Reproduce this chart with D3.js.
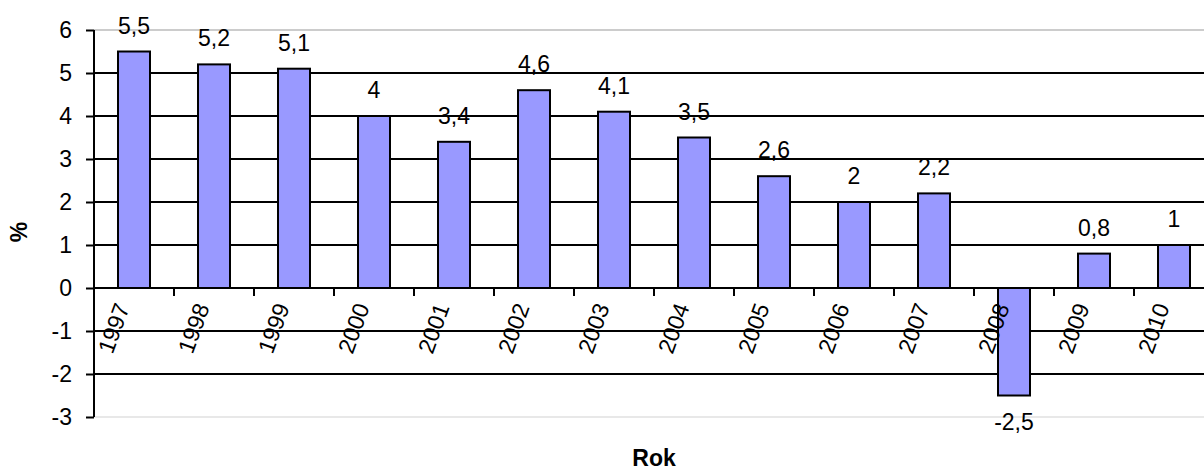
<!DOCTYPE html>
<html>
<head>
<meta charset="utf-8">
<script src="https://cdn.jsdelivr.net/npm/d3@7"></script>
<style>
  html, body { margin: 0; padding: 0; background: #fff; overflow: hidden; }
  svg { display: block; font-family: Arial, "Liberation Sans", sans-serif; }
</style>
</head>
<body>
<svg id="chart" width="1204" height="471"></svg>
<script>
const years = ["1997","1998","1999","2000","2001","2002","2003","2004","2005","2006","2007","2008","2009","2010"];
const values = [5.5, 5.2, 5.1, 4, 3.4, 4.6, 4.1, 3.5, 2.6, 2, 2.2, -2.5, 0.8, 1];
const valueLabels = ["5,5","5,2","5,1","4","3,4","4,6","4,1","3,5","2,6","2","2,2","-2,5","0,8","1"];
const yTicks = [-3, -2, -1, 0, 1, 2, 3, 4, 5, 6];
const xTitle = "Rok";
const yTitle = "%";

(function () {
const svg = d3.select("#chart");
const pLeft = 94, pRight = 1214, pTop = 30, pBottom = 417;
const fs = 23;

const x = d3.scaleBand().domain(years).range([pLeft, pRight]).paddingInner(0.6).paddingOuter(0.3);
const y = d3.scaleLinear().domain([-3, 6]).range([pBottom, pTop]);
const step = x.step();

// gridlines
svg.append("g").selectAll("line").data(yTicks).join("line")
  .attr("x1", pLeft).attr("x2", 1204)
  .attr("y1", d => Math.round(y(d))).attr("y2", d => Math.round(y(d)))
  .attr("stroke", d => d === 6 ? "#cccccc" : (d === -3 ? "#e8e8e8" : "#000"))
  .attr("stroke-width", 2);

// bars
svg.append("g").selectAll("rect").data(values).join("rect")
  .attr("x", (d, i) => x(years[i]))
  .attr("width", x.bandwidth())
  .attr("y", d => y(Math.max(0, d)))
  .attr("height", d => Math.abs(y(d) - y(0)))
  .attr("fill", "#9999FF")
  .attr("stroke", "#000")
  .attr("stroke-width", 2);

// y axis
const yAxis = d3.axisLeft(y).tickValues(yTicks).tickSize(8).tickPadding(14);
const gy = svg.append("g").attr("transform", `translate(${pLeft},0)`).call(yAxis);
gy.select(".domain").attr("stroke", "#000").attr("stroke-width", 2).attr("d", `M0,${pTop}V${pBottom}`);
gy.selectAll(".tick line").attr("stroke", "#000").attr("stroke-width", 2);
gy.selectAll(".tick text").attr("font-size", fs).attr("fill", "#000")
  .attr("font-family", "Arial, 'Liberation Sans', sans-serif").text(d => d < 0 ? "-" + Math.abs(d) : d);

// x axis line at zero with ticks at category boundaries
svg.append("line").attr("x1", pLeft).attr("x2", 1204).attr("y1", y(0)).attr("y2", y(0))
  .attr("stroke", "#000").attr("stroke-width", 2);
svg.append("g").selectAll("line").data(years.slice(1)).join("line")
  .attr("x1", d => x(d) - x.paddingOuter() * step).attr("x2", d => x(d) - x.paddingOuter() * step)
  .attr("y1", y(0)).attr("y2", y(0) + 8)
  .attr("stroke", "#000").attr("stroke-width", 2);

// category labels (rotated)
svg.append("g").selectAll("text").data(years).join("text")
  .attr("transform", d => `translate(${x(d) + x.bandwidth() / 2 - 4},${y(0) + 19}) rotate(-70)`)
  .attr("text-anchor", "end")
  .attr("font-size", fs)
  .attr("fill", "#000")
  .text(d => d);

// value labels
svg.append("g").selectAll("text").data(values).join("text")
  .attr("x", (d, i) => x(years[i]) + x.bandwidth() / 2)
  .attr("y", d => d >= 0 ? y(d) - 18 : y(d) + 34)
  .attr("text-anchor", "middle")
  .attr("font-size", fs)
  .attr("fill", "#000")
  .text((d, i) => valueLabels[i]);

// axis titles
svg.append("text").attr("x", (pLeft + pRight) / 2).attr("y", 466)
  .attr("text-anchor", "middle").attr("font-size", fs).attr("font-weight", "bold").text(xTitle);
svg.append("text").attr("transform", "translate(27,232) rotate(-90)")
  .attr("text-anchor", "middle").attr("font-size", fs).attr("font-weight", "bold").text(yTitle);
})();
</script>
</body>
</html>
